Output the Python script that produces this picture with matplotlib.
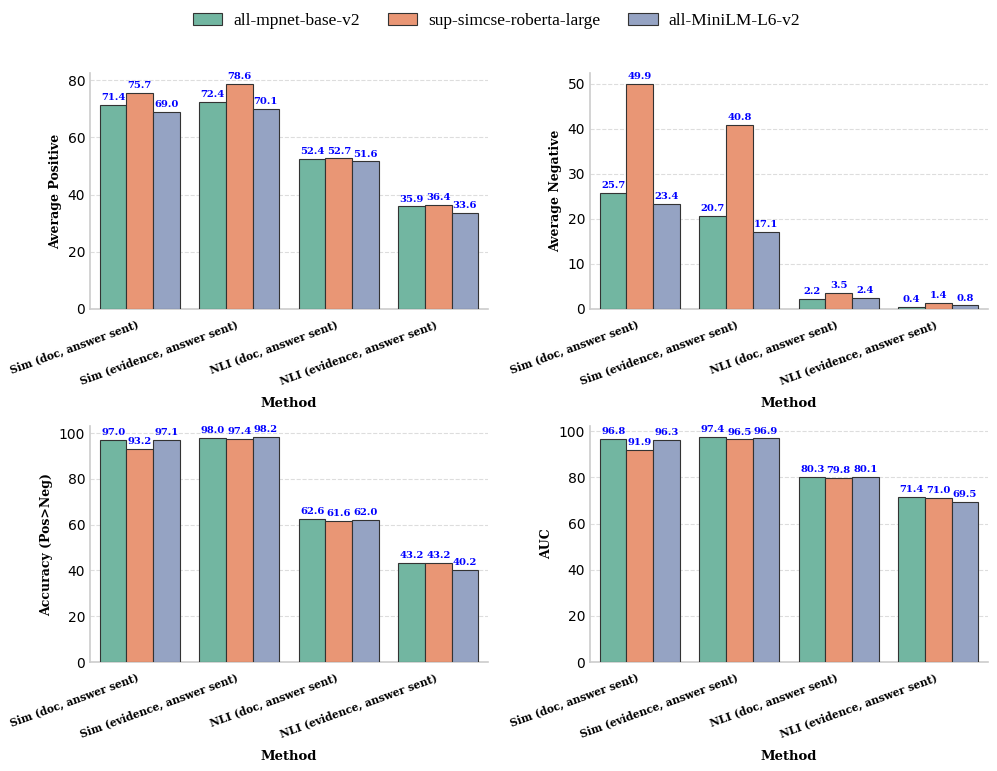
import pandas as pd
import matplotlib
matplotlib.use("Agg")
import matplotlib.pyplot as plt
import seaborn as sns

methods = ["Sim (doc, answer sent)", "Sim (evidence, answer sent)",
           "NLI (doc, answer sent)", "NLI (evidence, answer sent)"]
models = ["all-mpnet-base-v2", "sup-simcse-roberta-large", "all-MiniLM-L6-v2"]

# values per model, in method order
avg_pos = {
    "all-mpnet-base-v2": [71.4, 72.4, 52.4, 35.9],
    "sup-simcse-roberta-large": [75.7, 78.6, 52.7, 36.4],
    "all-MiniLM-L6-v2": [69.0, 70.1, 51.6, 33.6],
}
avg_neg = {
    "all-mpnet-base-v2": [25.7, 20.7, 2.2, 0.4],
    "sup-simcse-roberta-large": [49.9, 40.8, 3.5, 1.4],
    "all-MiniLM-L6-v2": [23.4, 17.1, 2.4, 0.8],
}
accuracy = {
    "all-mpnet-base-v2": [97.0, 98.0, 62.6, 43.2],
    "sup-simcse-roberta-large": [93.2, 97.4, 61.6, 43.2],
    "all-MiniLM-L6-v2": [97.1, 98.2, 62.0, 40.2],
}
auc = {
    "all-mpnet-base-v2": [96.8, 97.4, 80.3, 71.4],
    "sup-simcse-roberta-large": [91.9, 96.5, 79.8, 71.0],
    "all-MiniLM-L6-v2": [96.3, 96.9, 80.1, 69.5],
}

panels = [
    ("Average Positive", avg_pos),
    ("Average Negative", avg_neg),
    ("Accuracy (Pos>Neg)", accuracy),
    ("AUC", auc),
]

sns.set_style("whitegrid")
plt.rcParams["text.color"] = "black"
plt.rcParams["axes.labelcolor"] = "black"
plt.rcParams["xtick.color"] = "black"
plt.rcParams["ytick.color"] = "black"

fig = plt.figure(figsize=(9.97, 7.71), dpi=100)
lefts = [90 / 997, 590 / 997]
bottoms = [1 - 309 / 771, 1 - 662 / 771]
w, h = 398 / 997, 236 / 771

serif_bold = dict(family="DejaVu Serif", fontweight="bold")

for i, (ylabel, data) in enumerate(panels):
    ax = fig.add_axes([lefts[i % 2], bottoms[i // 2], w, h])
    rows = []
    for m in models:
        for meth, v in zip(methods, data[m]):
            rows.append({"Method": meth, "Model": m, "Value": v})
    df = pd.DataFrame(rows)
    sns.barplot(data=df, x="Method", y="Value", hue="Model", palette="Set2",
                edgecolor="#333333", linewidth=0.8, ax=ax, zorder=3)
    for c in ax.containers:
        ax.bar_label(c, fmt="%.1f", padding=2, color="blue", fontsize=7.2, **serif_bold)
    ax.get_legend().remove()
    ax.set_xlabel("Method", fontsize=9.5, labelpad=8, **serif_bold)
    ax.set_ylabel(ylabel, fontsize=9, **serif_bold)
    ax.set_xticks(range(len(methods)))
    ax.set_xticklabels(methods, rotation=20, ha="right", fontsize=7.7, **serif_bold)
    ax.tick_params(axis="y", labelsize=10, length=0)
    ax.tick_params(axis="x", length=0, pad=7)
    ax.grid(axis="x", visible=False)
    ax.grid(axis="y", linestyle="--", color="#dddddd", linewidth=0.8, zorder=0)
    ax.set_axisbelow(True)
    for s in ["top", "right"]:
        ax.spines[s].set_visible(False)
    for s in ["left", "bottom"]:
        ax.spines[s].set_color("#cccccc")
        ax.spines[s].set_linewidth(1.2)
    if i == 0:
        handles, labels = ax.get_legend_handles_labels()

fig.legend(handles, labels, loc="upper center", bbox_to_anchor=(0.498, 1.004),
           ncol=3, frameon=False, prop={"family": "Liberation Serif", "size": 12.5},
           columnspacing=1.6, handlelength=1.7, handletextpad=0.63)

fig.savefig("out.png", dpi=100)
